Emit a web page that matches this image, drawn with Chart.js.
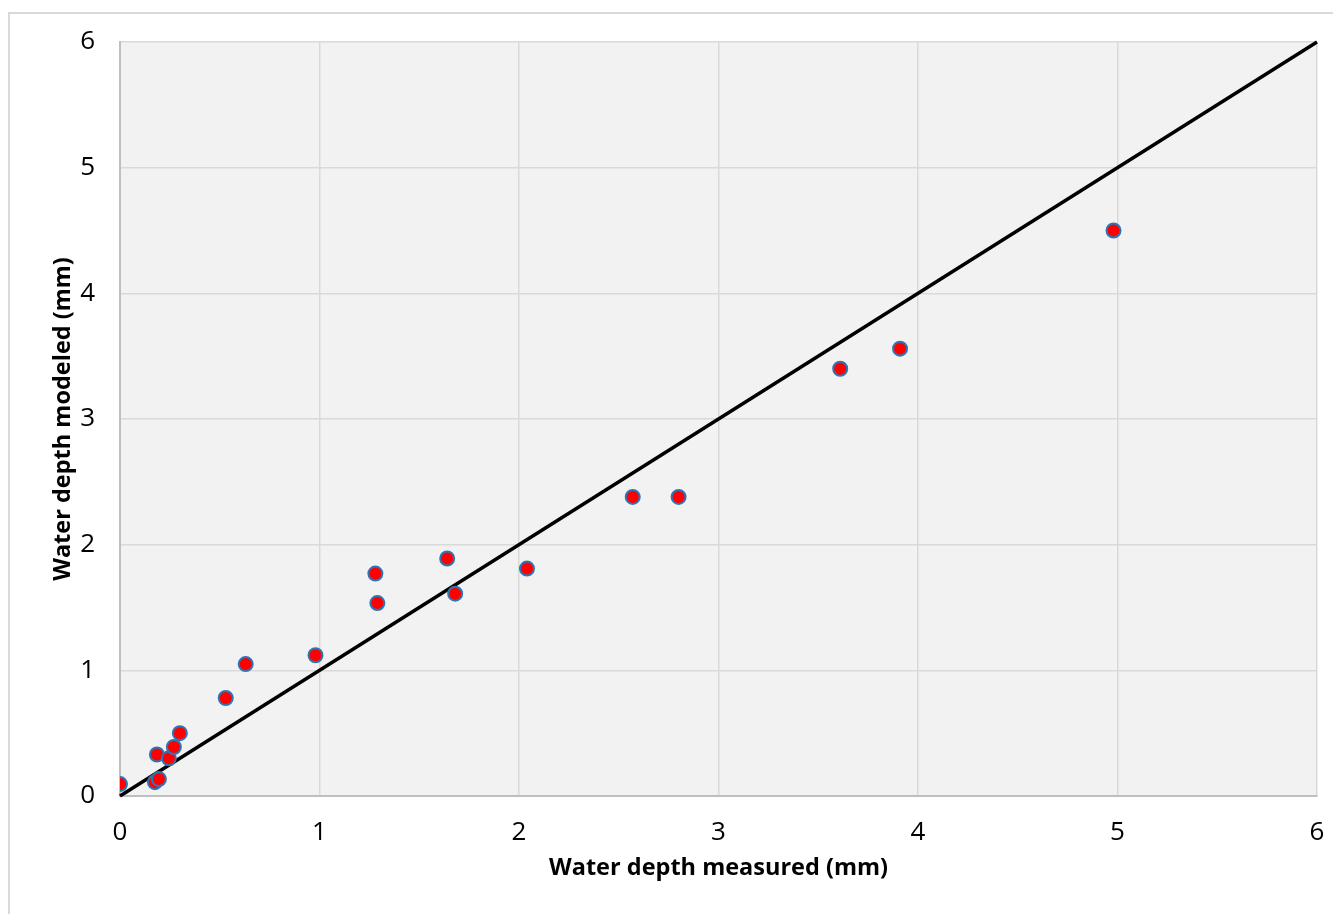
<!DOCTYPE html>
<html>
<head>
<meta charset="utf-8">
<script src="https://cdn.jsdelivr.net/npm/chart.js@4"></script>
<style>
  html, body { margin: 0; padding: 0; background: #fff; overflow: hidden; }
  #frame { position: absolute; left: 8px; top: 12px; width: 1400px; height: 1000px; border: 2px solid #d9d9d9; }
  #wrap { position: absolute; left: 0; top: 0; width: 1333px; height: 914px; }
</style>
</head>
<body>
<div id="frame"></div>
<div id="wrap"><canvas id="chart_plot"></canvas></div>
<script>
// measured vs modeled water depth (mm)
var measured = [0, 0.175, 0.195, 0.185, 0.245, 0.27, 0.30, 0.53, 0.63, 0.98, 1.28, 1.29, 1.64, 1.68, 2.04, 2.57, 2.80, 3.61, 3.91, 4.98];
var modeled  = [0.095, 0.11, 0.135, 0.33, 0.30, 0.39, 0.50, 0.78, 1.05, 1.12, 1.77, 1.535, 1.89, 1.61, 1.81, 2.38, 2.38, 3.40, 3.56, 4.50];
// 1:1 line
var lineX = [0, 6];
var lineY = [0, 6];
var ticks = [0, 1, 2, 3, 4, 5, 6];

var plotBg = {
    id: 'plotBg',
    beforeDraw: function(chart) {
        var a = chart.chartArea;
        var c = chart.ctx;
        c.save();
        c.fillStyle = '#f2f2f2';
        c.fillRect(a.left, a.top, a.right - a.left, a.bottom - a.top);
        c.restore();
    }
};

var points = measured.map(function(v, i) { return {x: v, y: modeled[i]}; });
var line = lineX.map(function(v, i) { return {x: v, y: lineY[i]}; });

var tickFont = {family: 'Open Sans', size: 26};
var titleFont = {family: 'Open Sans', size: 23.5, weight: 'bold'};

new Chart(document.getElementById('chart_plot'), {
    type: 'scatter',
    data: {
        datasets: [{
            data: points,
            backgroundColor: '#ff0000',
            borderColor: '#2e75b6',
            borderWidth: 2,
            pointRadius: 7,
            pointHoverRadius: 7,
            order: 0
        }, {
            type: 'line',
            data: line,
            borderColor: '#000000',
            borderWidth: 3.5,
            pointRadius: 0,
            fill: false,
            clip: false,
            order: 1
        }]
    },
    options: {
        responsive: true,
        maintainAspectRatio: false,
        animation: false,
        layout: { padding: { top: 42, right: 16, bottom: 0, left: 0 } },
        plugins: { legend: { display: false }, tooltip: { enabled: false } },
        scales: {
            x: {
                type: 'linear',
                min: 0, max: 6,
                afterBuildTicks: function(s) { s.ticks = ticks.map(function(v) { return {value: v}; }); },
                afterFit: function(s) { s.height = 118; s.paddingLeft = 0; s.paddingRight = 0; },
                grid: { color: '#d9d9d9', lineWidth: 1.5, drawTicks: false },
                border: { color: '#bfbfbf', width: 2 },
                ticks: { color: '#000', font: tickFont, padding: 21, maxRotation: 0 },
                title: { display: true, text: 'Water depth measured (mm)', color: '#000', font: titleFont, padding: { top: 0, bottom: 32 } }
            },
            y: {
                type: 'linear',
                min: 0, max: 6,
                afterBuildTicks: function(s) { s.ticks = ticks.map(function(v) { return {value: v}; }); },
                afterFit: function(s) { s.width = 120; },
                grid: { color: '#d9d9d9', lineWidth: 1.5, drawTicks: false },
                border: { color: '#bfbfbf', width: 2 },
                ticks: { color: '#000', font: tickFont, padding: 25 },
                title: { display: true, text: 'Water depth modeled (mm)', color: '#000', font: titleFont, padding: { top: 49, bottom: 0 } }
            }
        }
    },
    plugins: [plotBg]
});
</script>
</body>
</html>
